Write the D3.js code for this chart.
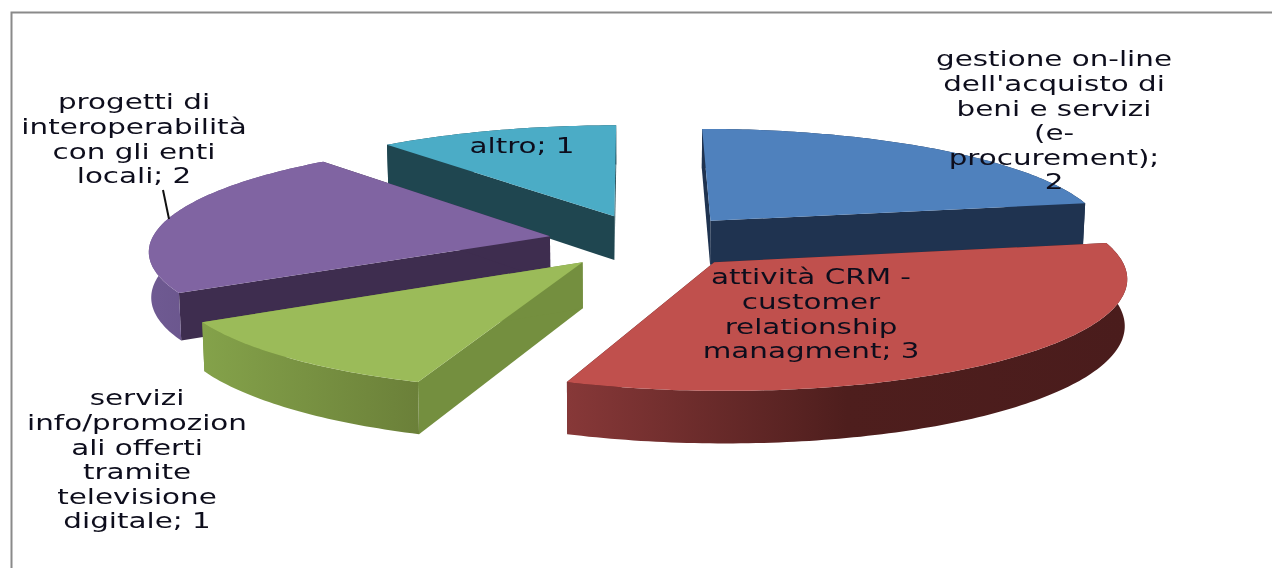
<!DOCTYPE html>
<html><head><meta charset="utf-8">
<style>html,body{margin:0;padding:0;background:#fff}svg{display:block}</style>
<script src="https://cdn.jsdelivr.net/npm/d3@7"></script></head>
<body><svg id="c" width="1272" height="568"></svg>
<script>
const categories = ["gestione on-line dell'acquisto di beni e servizi (e-procurement)","attività CRM - customer relationship managment","servizi info/promozionali offerti tramite televisione digitale","progetti di interoperabilità con gli enti locali","altro"];
const values = [2,3,1,2,1];
const labelLines = [
 ["gestione on-line","dell'acquisto di","beni e servizi","(e-","procurement);","2"],
 ["attività CRM -","customer","relationship","managment;  3"],
 ["servizi","info/promozion","ali offerti","tramite","televisione","digitale; 1"],
 ["progetti  di","interoperabilità","con gli enti","locali; 2"],
 ["altro; 1"]];
const labelPos = [[1054,59],[811,277],[137,398],[134,102],[522,146]];
const topColors = ["#4f81bd","#c0504d","#9bbb59","#8064a2","#4bacc6"];
const wallColors = ["#1f3350","#4a1c1c","#748f3f","#3e2d4f","#1f4650"];
const outerStops = [["#1f3350","#1f3350"],["#873838","#4e1e1d","#4a1c1c"],["#84a24a","#6b8039"],["#6f5a92","#5c4a7e"],["#1f4650","#1f4650"]];

const W=1272,H=568;
// scene
const R=399, explode=100, depth=45;
const xv=632, cx=648, yc=241, f=3300, hz=890;   // vanishing x, centre, focal, camera height
const sink=0.005;
const sx=d3.scaleLinear().domain([0,1]).range([xv,xv+1]);
const sy=d3.scaleLinear().domain([0,1]).range([yc-hz,yc]);
function proj(X,Z){const k=f/(f-Z);return {x:sx((X+cx-xv)*k),y:sy(k),k};}
function bottom(p){return {x:xv+(p.x-xv)*(1-sink),y:p.y+depth*p.k};}

const arcs=d3.pie().sort(null).startAngle(0).endAngle(2*Math.PI)(values);
const svg=d3.select("#c");
const defs=svg.append("defs");
const line=d3.line().x(d=>d.x).y(d=>d.y);
const close=pts=>line(pts)+"Z";

const slices=arcs.map((a,i)=>{
  const mid=(a.startAngle+a.endAngle)/2;
  const ox=explode*Math.sin(mid), oz=-explode*Math.cos(mid);
  const at=t=>proj(ox+R*Math.sin(t),oz-R*Math.cos(t));
  const apex=proj(ox,oz);
  const n=Math.max(8,Math.round((a.endAngle-a.startAngle)*60));
  const rim=d3.range(n+1).map(j=>at(a.startAngle+(a.endAngle-a.startAngle)*j/n));
  return {i,oz,apex,rim};
}).sort((p,q)=>p.oz-q.oz);

outerStops.forEach((st,i)=>{
  const g=defs.append("linearGradient").attr("id","w"+i);
  st.forEach((c,j)=>g.append("stop").attr("offset",j/(st.length-1)).attr("stop-color",c));
});

const gs=svg.append("g").selectAll("g").data(slices).join("g");
gs.each(function(s){
  const g=d3.select(this);
  const first=s.rim[0], last=s.rim[s.rim.length-1];
  [first,last].forEach(p=>{
    g.append("path").attr("d",close([s.apex,p,bottom(p),bottom(s.apex)])).attr("fill",wallColors[s.i]);
  });
  g.append("path").attr("d",close(s.rim.concat(s.rim.map(bottom).reverse()))).attr("fill",`url(#w${s.i})`);
  g.append("path").attr("d",close([s.apex,...s.rim])).attr("fill",topColors[s.i]);
});

// frame
svg.append("path").attr("d",`M11.5,${H}V12.5H${W}`).attr("fill","none").attr("stroke","#8a8a8a").attr("stroke-width",2);
// leader
svg.append("line").attr("x1",163).attr("y1",190).attr("x2",169).attr("y2",219).attr("stroke","#111").attr("stroke-width",2);
// labels
const soft=defs.append("filter").attr("id","soft").attr("x","-5%").attr("y","-5%").attr("width","110%").attr("height","110%");
soft.append("feGaussianBlur").attr("stdDeviation",0.5);
const lab=svg.append("g").attr("font-family","'DejaVu Sans',sans-serif").attr("font-size",21).attr("fill","#10101e").attr("text-anchor","middle").attr("filter","url(#soft)");
const stretch=1.4;
labelLines.forEach((ls,i)=>{
  lab.append("g").selectAll("text").data(ls).join("text")
    .attr("transform",(d,j)=>`translate(${labelPos[i][0]},${labelPos[i][1]+j*24.6}) scale(${stretch},1)`)
    .attr("dy","0.35em").text(d=>d);
});
</script></body></html>
